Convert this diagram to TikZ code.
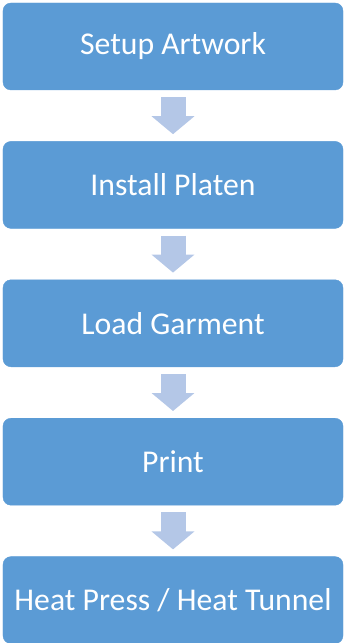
\documentclass[tikz,border=0pt]{standalone}
\usepackage{fontspec}
\setmainfont{Carlito}
\usepackage{xcolor}
\usepackage{tikz}
\usetikzlibrary{arrows.meta,positioning}
\definecolor{stepblue}{HTML}{5B9BD5}
\definecolor{flowblue}{HTML}{B4C7E7}

\begin{document}
\begin{tikzpicture}[x=1bp,y=1bp,
  stepbox/.style={draw=stepblue,fill=stepblue,rounded corners=8bp,minimum width=340bp,minimum height=87bp,text=white,font=\fontsize{31.7bp}{38bp}\selectfont,inner sep=0pt},
  flow/.style={flowblue,line width=25bp,-{Triangle[length=18bp,width=42bp]},shorten <=7bp,shorten >=7bp}
]
\useasboundingbox (0,0) rectangle (346,-643);
\node[stepbox] (art) at (173,-46.5) {Setup Artwork};
\node[stepbox,below=51bp of art] (platen) {Install Platen};
\node[stepbox,below=51bp of platen] (garment) {Load Garment};
\node[stepbox,below=51bp of garment] (print) {Print};
\node[stepbox,below=51bp of print] (press) {Heat Press / Heat Tunnel};
\draw[flow] (art) -- (platen);
\draw[flow] (platen) -- (garment);
\draw[flow] (garment) -- (print);
\draw[flow] (print) -- (press);
\end{tikzpicture}
\end{document}
